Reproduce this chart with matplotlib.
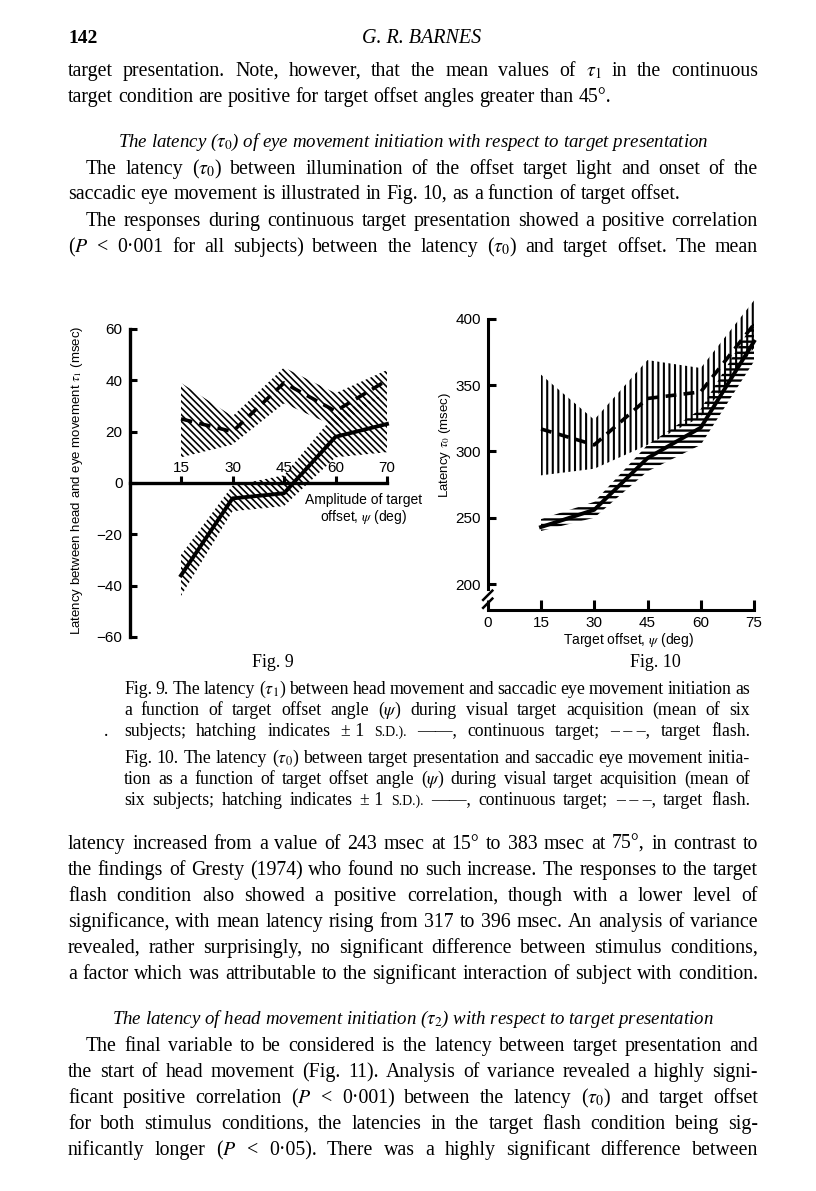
import matplotlib
matplotlib.use('Agg')
import matplotlib.pyplot as plt
from matplotlib.transforms import IdentityTransform

W, H = 816, 1191
SERIF = 'Liberation Serif'
SANS = 'Liberation Sans'

plt.rcParams['font.family'] = SANS
plt.rcParams['mathtext.fontset'] = 'stix'
plt.rcParams['hatch.linewidth'] = 1.2

# ---- Fig. 9 data (latency tau1, msec) ----
fig9_x = [15, 30, 45, 60, 75]
fig9_xlabels = ['15', '30', '45', '60', '70']
fig9_cont = [-36, -6, -4, 18, 23]
fig9_cont_lo = [-44, -11, -9, 10, 12]
fig9_cont_hi = [-28, -1, 3, 27, 35]
fig9_flash = [25, 20, 39, 28, 40]
fig9_flash_lo = [10, 15, 31, 22, 35]
fig9_flash_hi = [39, 26, 45, 35, 44]
fig9_yticks = [-60, -40, -20, 0, 20, 40, 60]

# ---- Fig. 10 data (latency tau0, msec) ----
fig10_x = [15, 30, 45, 60, 75]
fig10_xticks = [0, 15, 30, 45, 60, 75]
fig10_cont = [243, 256, 295, 318, 383]
fig10_cont_lo = [240, 250, 285, 305, 368]
fig10_cont_hi = [249, 262, 305, 332, 398]
fig10_flash = [317, 305, 340, 345, 396]
fig10_flash_lo = [282, 287, 305, 326, 378]
fig10_flash_hi = [358, 324, 369, 363, 414]
fig10_yticks = [200, 250, 300, 350, 400]

# ---- page text: (text, baseline y px, indent px, justified) ----
text_top = [
    ("target presentation. Note, however, that the mean values of $\\tau_1$ in the continuous", 76, 0, True),
    ("target condition are positive for target offset angles greater than 45°.", 102, 0, False),
    ("The latency ($\\tau_0$) between illumination of the offset target light and onset of the", 174, 18, True),
    ("saccadic eye movement is illustrated in Fig. 10, as a function of target offset.", 199, 0, False),
    ("The responses during continuous target presentation showed a positive correlation", 226, 18, True),
    ("($P$ < 0·001 for all subjects) between the latency ($\\tau_0$) and target offset. The mean", 252, 0, True),
]
captions = [
    ("Fig. 9. The latency ($\\tau_1$) between head movement and saccadic eye movement initiation as", 694),
    ("a function of target offset angle ($\\psi$) during visual target acquisition (mean of six", 715),
    ("subjects; hatching indicates ±\u00a01 S.D.). ——, continuous target; –\u00a0–\u00a0–, target flash.", 736),
    ("Fig. 10. The latency ($\\tau_0$) between target presentation and saccadic eye movement initia-", 763),
    ("tion as a function of target offset angle ($\\psi$) during visual target acquisition (mean of", 784),
    ("six subjects; hatching indicates ±\u00a01 S.D.). ——, continuous target; –\u00a0–\u00a0–, target flash.", 805),
]
text_bottom = [
    ("latency increased from a value of 243 msec at 15° to 383 msec at 75°, in contrast to", 849, 0, True),
    ("the findings of Gresty (1974) who found no such increase. The responses to the target", 875, 0, True),
    ("flash condition also showed a positive correlation, though with a lower level of", 901, 0, True),
    ("significance, with mean latency rising from 317 to 396 msec. An analysis of variance", 927, 0, True),
    ("revealed, rather surprisingly, no significant difference between stimulus conditions,", 953, 0, True),
    ("a factor which was attributable to the significant interaction of subject with condition.", 979, 0, True),
    ("The final variable to be considered is the latency between target presentation and", 1051, 18, True),
    ("the start of head movement (Fig. 11). Analysis of variance revealed a highly signi-", 1077, 0, True),
    ("ficant positive correlation ($P$ < 0·001) between the latency ($\\tau_0$) and target offset", 1103, 0, True),
    ("for both stimulus conditions, the latencies in the target flash condition being sig-", 1129, 0, True),
    ("nificantly longer ($P$ < 0·05). There was a highly significant difference between", 1155, 0, True),
]
headings = [
    ("The latency ($\\tau_0$) of eye movement initiation with respect to target presentation", 147),
    ("The latency of head movement initiation ($\\tau_2$) with respect to target presentation", 1024),
]

BODY_L, BODY_R = 68, 758
CAP_L, CAP_R = 124, 750
BODY_SIZE = 14.3
CAP_SIZE = 12.8
HEAD_SIZE = 13.6

fig = plt.figure(figsize=(W / 100, H / 100), dpi=100)
renderer = fig.canvas.get_renderer()


def ptext(x, y, s, **kw):
    # text placed in page pixels, y measured from the top
    return fig.text(x, H - y, s, transform=IdentityTransform(), **kw)


def put_line(line, x0, x1, y, size, style='normal', justify=True):
    words = line.split(' ')
    arts = []
    for w in words:
        sz = size * 0.78 if w.startswith('S.D.') else size
        arts.append(ptext(0, y, w, fontsize=sz, family=SERIF, style=style,
                          ha='left', va='baseline'))
    widths = [t.get_window_extent(renderer).width for t in arts]
    gap = size * 0.25 * 100 / 72
    if justify and len(arts) > 1:
        gap = max((x1 - x0 - sum(widths)) / (len(arts) - 1), gap * 0.6)
    x = x0
    for t, w in zip(arts, widths):
        t.set_position((x, H - y))
        x += w + gap


def place_axes(xref, yref, xlim, ylim):
    (xv1, xp1), (xv2, xp2) = xref
    sx = (xp2 - xp1) / (xv2 - xv1)
    left = xp1 + (xlim[0] - xv1) * sx
    width = (xlim[1] - xlim[0]) * sx
    (yv1, yp1), (yv2, yp2) = yref
    sy = (yp1 - yp2) / (yv1 - yv2)
    top = yp1 + (ylim[1] - yv1) * sy
    height = (ylim[1] - ylim[0]) * -sy
    ax = fig.add_axes([left / W, 1 - (top + height) / H, width / W, height / H])
    ax.set_xlim(xlim)
    ax.set_ylim(ylim)
    ax.patch.set_visible(False)
    return ax


def thicker_hatch(coll, lw):
    if hasattr(coll, 'set_hatch_linewidth'):
        coll.set_hatch_linewidth(lw)


# header
ptext(BODY_L, 43, "142", fontsize=14, family=SERIF, weight='bold', ha='left', va='baseline')
ptext(422, 43, "G. R. BARNES", fontsize=14.5, family=SERIF, style='italic', ha='center', va='baseline')

for line, y, ind, just in text_top + text_bottom:
    put_line(line, BODY_L + ind, BODY_R, y, BODY_SIZE, justify=just)
for line, y in headings:
    ptext((BODY_L + BODY_R) / 2, y, line, fontsize=HEAD_SIZE, family=SERIF,
          style='italic', ha='center', va='baseline')
for line, y in captions:
    put_line(line, CAP_L, CAP_R, y, CAP_SIZE)
ptext(104, 736, ".", fontsize=CAP_SIZE, family=SERIF, va='baseline')

# ---------------- Fig. 9 ----------------
ax9 = place_axes(((15, 181), (75, 387)), ((60, 329), (-60, 637)), (-3, 80), (-64, 64))
ax9.fill_between(fig9_x, fig9_flash_lo, fig9_flash_hi, facecolor='none',
                 edgecolor='black', hatch='\\\\\\\\\\', linewidth=0)
ax9.fill_between(fig9_x, fig9_cont_lo, fig9_cont_hi, facecolor='none',
                 edgecolor='black', hatch='\\\\\\\\\\', linewidth=0)
ax9.plot(fig9_x, fig9_cont, color='black', lw=2.8)
ax9.plot(fig9_x, fig9_flash, color='black', lw=2.6, dashes=(3.2, 2))
for s in ['top', 'right']:
    ax9.spines[s].set_visible(False)
ax9.spines['left'].set_position(('data', 0))
ax9.spines['left'].set_bounds(-60, 60)
ax9.spines['bottom'].set_position(('data', 0))
ax9.spines['bottom'].set_bounds(0, 75)
for s in ['left', 'bottom']:
    ax9.spines[s].set_linewidth(2.4)
ax9.set_xticks(fig9_x, fig9_xlabels)
ax9.set_yticks(fig9_yticks)
ax9.tick_params(direction='in', width=2.2, length=5, labelsize=11)
ax9.tick_params(axis='x', pad=-16)
ax9.tick_params(axis='y', pad=5)

ptext(77, 480, "Latency between head and eye movement $\\tau_1$ (msec)", fontsize=9.5,
      rotation=90, ha='center', va='center')
ptext(364, 500, "Amplitude of target", fontsize=10, ha='center', va='center')
ptext(364, 517, "offset, $\\psi$ (deg)", fontsize=10, ha='center', va='center')
ptext(273, 667, "Fig. 9", fontsize=13, family=SERIF, ha='center', va='baseline')

# ---------------- Fig. 10 ----------------
ax10 = place_axes(((15, 541), (75, 754)), ((400, 319), (200, 584)), (-3, 80), (176, 420))
band_f = ax10.fill_between(fig10_x, fig10_flash_lo, fig10_flash_hi, facecolor='none',
                           edgecolor='black', hatch='|||', linewidth=0)
band_c = ax10.fill_between(fig10_x, fig10_cont_lo, fig10_cont_hi, facecolor='none',
                           edgecolor='black', hatch='---', linewidth=0)
thicker_hatch(band_f, 1.5)
thicker_hatch(band_c, 1.7)
ax10.plot(fig10_x, fig10_cont, color='black', lw=2.8)
ax10.plot(fig10_x, fig10_flash, color='black', lw=2.6, dashes=(3, 2))
for s in ['top', 'right']:
    ax10.spines[s].set_visible(False)
ax10.spines['left'].set_position(('data', 0))
ax10.spines['left'].set_bounds(196, 400)
ax10.spines['bottom'].set_position(('data', 180))
ax10.spines['bottom'].set_bounds(0, 75)
for s in ['left', 'bottom']:
    ax10.spines[s].set_linewidth(2.2)
# axis break marks
for yb in (182, 188):
    ax10.plot([-1.3, 1.3], [yb, yb + 7], color='black', lw=1.8, clip_on=False)
ax10.set_xticks(fig10_xticks)
ax10.set_yticks(fig10_yticks)
ax10.tick_params(direction='in', width=2.2, labelsize=11)
ax10.tick_params(axis='x', length=7, pad=4)
ax10.tick_params(axis='y', length=6, pad=5)

ptext(445, 445, "Latency $\\tau_0$ (msec)", fontsize=9.5, rotation=90, ha='center', va='center')
ptext(629, 640, "Target offset, $\\psi$ (deg)", fontsize=10, ha='center', va='center')
ptext(655, 667, "Fig. 10", fontsize=13, family=SERIF, ha='center', va='baseline')

fig.savefig('out.png', dpi=100)
